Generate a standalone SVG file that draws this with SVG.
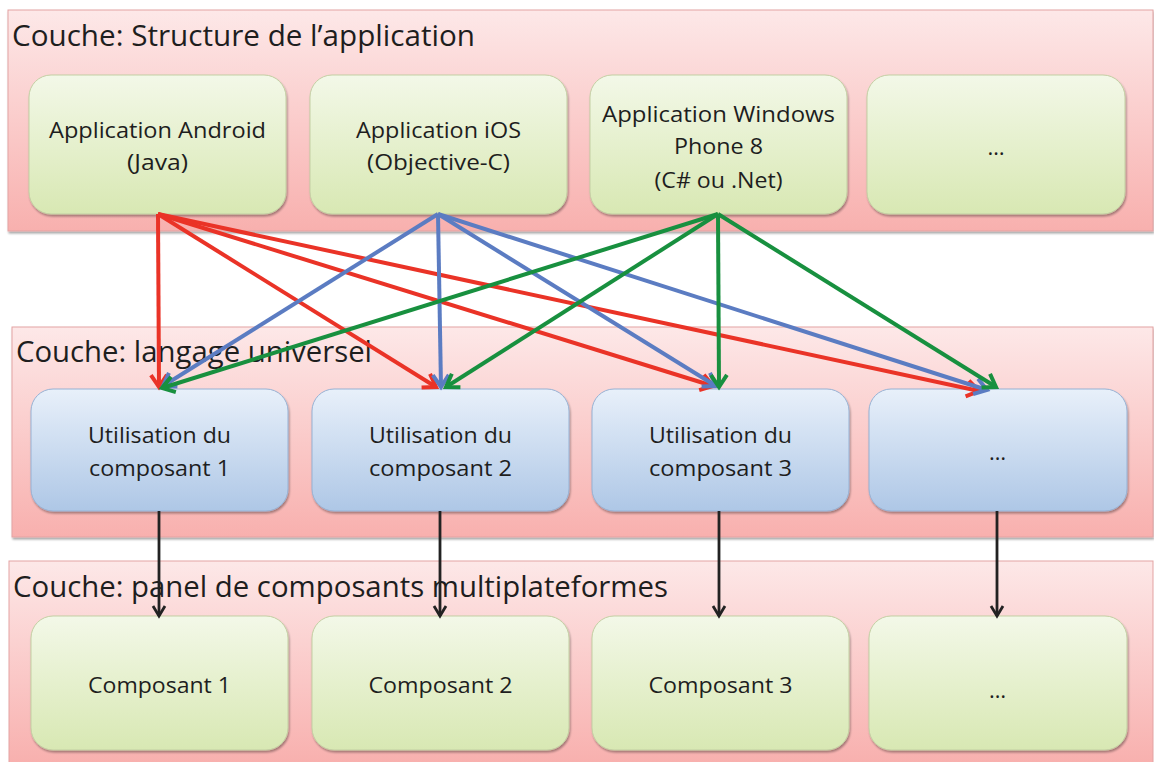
<svg xmlns="http://www.w3.org/2000/svg" width="1154" height="762" viewBox="0 0 1154 762">
<style>
.layer{stroke:#e3a3a3;stroke-width:1;fill:url(#gLayer)}
.gn{fill:url(#gGreen);stroke:#c3cfa3;stroke-width:1}
.bn{fill:url(#gBlue);stroke:#97b2d4;stroke-width:1}
.title{font-family:"Open Sans","Liberation Sans",sans-serif;font-size:30px;fill:#1e1e1e}
.lbl{font-family:"Open Sans","Liberation Sans",sans-serif;font-size:22px;fill:#1e1e1e;text-anchor:middle}
.red{stroke:#ea3327;stroke-width:4;fill:none;marker-end:url(#aRed)}
.blue{stroke:#5b7cc2;stroke-width:4;fill:none;marker-end:url(#aBlue)}
.green{stroke:#18903f;stroke-width:4;fill:none;marker-end:url(#aGreen)}
.blk{stroke:#222;stroke-width:2.8;fill:none;marker-end:url(#aBlk)}
</style>
<defs>
<linearGradient id="gLayer" x1="0" y1="0" x2="0" y2="1"><stop offset="0" stop-color="#fde8e8"/><stop offset="1" stop-color="#f8b0ae"/></linearGradient>
<linearGradient id="gGreen" x1="0" y1="0" x2="0" y2="1"><stop offset="0" stop-color="#f3f8e8"/><stop offset="1" stop-color="#d8e8b3"/></linearGradient>
<linearGradient id="gBlue" x1="0" y1="0" x2="0" y2="1"><stop offset="0" stop-color="#e8f0fa"/><stop offset="1" stop-color="#aec7e6"/></linearGradient>
<filter id="sh" x="-5%" y="-5%" width="110%" height="115%"><feGaussianBlur in="SourceAlpha" stdDeviation="1"/><feOffset dx="1" dy="1.5" result="b"/><feComponentTransfer><feFuncA type="linear" slope="0.35"/></feComponentTransfer><feMerge><feMergeNode/><feMergeNode in="SourceGraphic"/></feMerge></filter>
<marker id="aRed" markerUnits="userSpaceOnUse" viewBox="0 0 16 20" refX="14" refY="10" markerWidth="16" markerHeight="20" orient="auto" overflow="visible"><path d="M2,2 L14,10 L2,18" fill="none" stroke="#ea3327" stroke-width="4"/></marker>
<marker id="aBlue" markerUnits="userSpaceOnUse" viewBox="0 0 16 20" refX="14" refY="10" markerWidth="16" markerHeight="20" orient="auto" overflow="visible"><path d="M2,2 L14,10 L2,18" fill="none" stroke="#5b7cc2" stroke-width="4"/></marker>
<marker id="aGreen" markerUnits="userSpaceOnUse" viewBox="0 0 16 20" refX="14" refY="10" markerWidth="16" markerHeight="20" orient="auto" overflow="visible"><path d="M2,2 L14,10 L2,18" fill="none" stroke="#18903f" stroke-width="4"/></marker>
<marker id="aBlk" markerUnits="userSpaceOnUse" viewBox="0 0 14 16" refX="12" refY="8" markerWidth="14" markerHeight="16" orient="auto" overflow="visible"><path d="M2,2 L12,8 L2,14" fill="none" stroke="#222" stroke-width="2.8"/></marker>
</defs>
<rect width="1154" height="762" fill="#ffffff"/>

<g id="layer-app">
<rect class="layer" x="8" y="10" width="1145" height="221" filter="url(#sh)"/>
<text class="title" x="12" y="46" textLength="463" lengthAdjust="spacingAndGlyphs">Couche: Structure de l’application</text>
</g>
<g id="layer-lang">
<rect class="layer" x="12" y="327" width="1141" height="210" filter="url(#sh)"/>
<text class="title" x="16" y="362" textLength="356" lengthAdjust="spacingAndGlyphs">Couche: langage universel</text>
</g>
<g id="layer-panel">
<rect class="layer" x="9" y="561" width="1144" height="202"/>
<text class="title" x="13" y="597" textLength="655" lengthAdjust="spacingAndGlyphs">Couche: panel de composants multiplateformes</text>
</g>

<g id="app-android">
<rect class="gn" x="29" y="75" width="257" height="139" rx="22" filter="url(#sh)"/>
<text class="lbl" x="157.5" y="138" textLength="217" lengthAdjust="spacingAndGlyphs">Application Android</text>
<text class="lbl" x="157.5" y="170" textLength="61" lengthAdjust="spacingAndGlyphs">(Java)</text>
</g>
<g id="app-ios">
<rect class="gn" x="310" y="75" width="257" height="139" rx="22" filter="url(#sh)"/>
<text class="lbl" x="438.5" y="138" textLength="165" lengthAdjust="spacingAndGlyphs">Application iOS</text>
<text class="lbl" x="438.5" y="170" textLength="143" lengthAdjust="spacingAndGlyphs">(Objective-C)</text>
</g>
<g id="app-wp8">
<rect class="gn" x="590" y="75" width="257" height="139" rx="22" filter="url(#sh)"/>
<text class="lbl" x="718.5" y="122" textLength="233" lengthAdjust="spacingAndGlyphs">Application Windows</text>
<text class="lbl" x="718.5" y="154" textLength="89" lengthAdjust="spacingAndGlyphs">Phone 8</text>
<text class="lbl" x="718.5" y="188" textLength="128" lengthAdjust="spacingAndGlyphs">(C# ou .Net)</text>
</g>
<g id="app-more">
<rect class="gn" x="867" y="75" width="258" height="139" rx="22" filter="url(#sh)"/>
<text class="lbl" x="996" y="155">…</text>
</g>

<g id="use-1">
<rect class="bn" x="31" y="389" width="257" height="122" rx="22" filter="url(#sh)"/>
<text class="lbl" x="159.5" y="443" textLength="143" lengthAdjust="spacingAndGlyphs">Utilisation du</text>
<text class="lbl" x="159.5" y="476" textLength="141" lengthAdjust="spacingAndGlyphs">composant 1</text>
</g>
<g id="use-2">
<rect class="bn" x="312" y="389" width="257" height="122" rx="22" filter="url(#sh)"/>
<text class="lbl" x="440.5" y="443" textLength="143" lengthAdjust="spacingAndGlyphs">Utilisation du</text>
<text class="lbl" x="440.5" y="476" textLength="143" lengthAdjust="spacingAndGlyphs">composant 2</text>
</g>
<g id="use-3">
<rect class="bn" x="592" y="389" width="257" height="122" rx="22" filter="url(#sh)"/>
<text class="lbl" x="720.5" y="443" textLength="143" lengthAdjust="spacingAndGlyphs">Utilisation du</text>
<text class="lbl" x="720.5" y="476" textLength="143" lengthAdjust="spacingAndGlyphs">composant 3</text>
</g>
<g id="use-more">
<rect class="bn" x="869" y="389" width="258" height="122" rx="22" filter="url(#sh)"/>
<text class="lbl" x="997.5" y="460">…</text>
</g>

<g id="comp-1">
<rect class="gn" x="31" y="616" width="257" height="134" rx="22" filter="url(#sh)"/>
<text class="lbl" x="159.5" y="693" textLength="143" lengthAdjust="spacingAndGlyphs">Composant 1</text>
</g>
<g id="comp-2">
<rect class="gn" x="312" y="616" width="257" height="134" rx="22" filter="url(#sh)"/>
<text class="lbl" x="440.5" y="693" textLength="144" lengthAdjust="spacingAndGlyphs">Composant 2</text>
</g>
<g id="comp-3">
<rect class="gn" x="592" y="616" width="257" height="134" rx="22" filter="url(#sh)"/>
<text class="lbl" x="720.5" y="693" textLength="144" lengthAdjust="spacingAndGlyphs">Composant 3</text>
</g>
<g id="comp-more">
<rect class="gn" x="869" y="616" width="258" height="134" rx="22" filter="url(#sh)"/>
<text class="lbl" x="997.5" y="698">…</text>
</g>

<g id="connectors">
<line class="red" x1="158" y1="214" x2="159" y2="387"/>
<line class="red" x1="158" y1="214" x2="436" y2="387"/>
<line class="red" x1="158" y1="214" x2="713" y2="386"/>
<line class="red" x1="158" y1="214" x2="979" y2="391"/>
<line class="blue" x1="438" y1="214" x2="163" y2="386"/>
<line class="blue" x1="438" y1="214" x2="441" y2="387"/>
<line class="blue" x1="438" y1="214" x2="716" y2="386"/>
<line class="blue" x1="438" y1="214" x2="987" y2="390"/>
<line class="green" x1="718" y1="214" x2="162" y2="388"/>
<line class="green" x1="718" y1="214" x2="446" y2="387"/>
<line class="green" x1="718" y1="214" x2="719" y2="387"/>
<line class="green" x1="718" y1="214" x2="996" y2="387"/>
<line class="blk" x1="159" y1="511" x2="159" y2="616"/>
<line class="blk" x1="440" y1="511" x2="440" y2="616"/>
<line class="blk" x1="719" y1="511" x2="719" y2="616"/>
<line class="blk" x1="997" y1="511" x2="997" y2="616"/>
</g>
</svg>
